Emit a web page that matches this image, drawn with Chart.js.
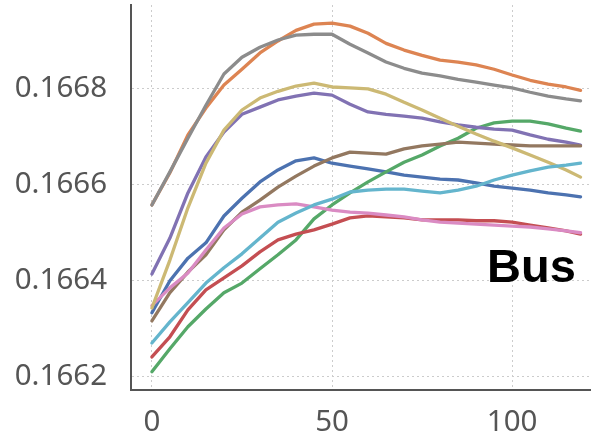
<!DOCTYPE html>
<html lang="en">
<head>
  <meta charset="UTF-8">
  <title>Bus</title>
  <script src="https://cdn.jsdelivr.net/npm/chart.js"></script>
  <style>
    body { margin: 0; background: #fff; }
  </style>
</head>
<body>
  <canvas id="busChart" width="591" height="440"></canvas>

  <script>
    const xValues = [0, 5, 10, 15, 20, 25, 30, 35, 40, 45, 50, 55, 60, 65, 70, 75, 80, 85, 90, 95, 100, 105, 110, 115, 119];
    const xTicks = [0, 50, 100];
    const yTicks = [0.1662, 0.1664, 0.1666, 0.1668];
    const panelLabel = 'Bus';

    const blueSeries = [0.166332, 0.166399, 0.166446, 0.166478, 0.166534, 0.166571, 0.166605, 0.166630, 0.166649, 0.166655, 0.166644, 0.166638, 0.166632, 0.166626, 0.166619, 0.166615, 0.166611, 0.166609, 0.166603, 0.166596, 0.166592, 0.166588, 0.166582, 0.166578, 0.166574];
    const orangeSeries = [0.166557, 0.166624, 0.166703, 0.166759, 0.166807, 0.166840, 0.166874, 0.166899, 0.166921, 0.166934, 0.166936, 0.166930, 0.166915, 0.166894, 0.166880, 0.166869, 0.166859, 0.166855, 0.166849, 0.166840, 0.166828, 0.166817, 0.166809, 0.166803, 0.166796];
    const greenSeries = [0.166209, 0.166257, 0.166303, 0.166340, 0.166374, 0.166394, 0.166424, 0.166453, 0.166484, 0.166528, 0.166557, 0.166582, 0.166605, 0.166626, 0.166646, 0.166661, 0.166680, 0.166696, 0.166717, 0.166728, 0.166732, 0.166732, 0.166726, 0.166717, 0.166711];
    const redSeries = [0.166240, 0.166282, 0.166338, 0.166380, 0.166405, 0.166430, 0.166459, 0.166484, 0.166496, 0.166505, 0.166517, 0.166530, 0.166534, 0.166532, 0.166530, 0.166526, 0.166526, 0.166526, 0.166524, 0.166524, 0.166521, 0.166515, 0.166509, 0.166503, 0.166496];
    const purpleSeries = [0.166413, 0.166488, 0.166582, 0.166657, 0.166709, 0.166746, 0.166761, 0.166776, 0.166784, 0.166790, 0.166786, 0.166767, 0.166751, 0.166746, 0.166742, 0.166738, 0.166730, 0.166724, 0.166719, 0.166715, 0.166713, 0.166703, 0.166694, 0.166688, 0.166682];
    const brownSeries = [0.166315, 0.166374, 0.166417, 0.166453, 0.166505, 0.166542, 0.166567, 0.166594, 0.166617, 0.166638, 0.166655, 0.166667, 0.166665, 0.166663, 0.166674, 0.166680, 0.166684, 0.166688, 0.166686, 0.166684, 0.166682, 0.166680, 0.166680, 0.166680, 0.166680];
    const pinkSeries = [0.166347, 0.166384, 0.166415, 0.166463, 0.166509, 0.166538, 0.166553, 0.166557, 0.166559, 0.166553, 0.166546, 0.166542, 0.166540, 0.166536, 0.166532, 0.166526, 0.166521, 0.166519, 0.166517, 0.166515, 0.166513, 0.166511, 0.166507, 0.166503, 0.166499];
    const graySeries = [0.166557, 0.166626, 0.166696, 0.166765, 0.166830, 0.166865, 0.166886, 0.166901, 0.166911, 0.166913, 0.166913, 0.166892, 0.166874, 0.166855, 0.166842, 0.166832, 0.166826, 0.166819, 0.166813, 0.166807, 0.166801, 0.166792, 0.166784, 0.166778, 0.166774];
    const oliveSeries = [0.166342, 0.166442, 0.166551, 0.166644, 0.166713, 0.166755, 0.166780, 0.166794, 0.166805, 0.166811, 0.166803, 0.166801, 0.166799, 0.166788, 0.166771, 0.166755, 0.166738, 0.166721, 0.166705, 0.166690, 0.166676, 0.166661, 0.166646, 0.166630, 0.166615];
    const cyanSeries = [0.166269, 0.166313, 0.166353, 0.166394, 0.166426, 0.166455, 0.166488, 0.166521, 0.166540, 0.166557, 0.166569, 0.166584, 0.166588, 0.166590, 0.166590, 0.166586, 0.166582, 0.166588, 0.166596, 0.166609, 0.166619, 0.166628, 0.166636, 0.166640, 0.166644];

    const seriesList = [blueSeries, orangeSeries, greenSeries, redSeries, purpleSeries, brownSeries, pinkSeries, graySeries, oliveSeries, cyanSeries];
    const seriesColors = ['#4C72B0', '#DD8452', '#55A868', '#C44E52', '#8172B3', '#937860', '#DA8BC3', '#8C8C8C', '#CCB974', '#64B5CD'];

    // later series sit on top, like the original plot
    const datasets = seriesList.map((values, i) => ({
      data: values.map((y, j) => ({ x: xValues[j], y: y })),
      borderColor: seriesColors[i],
      borderWidth: 3.3,
      pointRadius: 0,
      fill: false,
      tension: 0,
      borderCapStyle: 'round',
      borderJoinStyle: 'round',
      order: seriesList.length - i
    }));

    const labelPlugin = {
      id: 'panelLabel',
      afterDraw(chart) {
        const area = chart.chartArea;
        const c = chart.ctx;
        c.save();
        c.font = 'bold 47px "Liberation Sans", Arial, sans-serif';
        c.fillStyle = '#000';
        c.textAlign = 'left';
        c.textBaseline = 'alphabetic';
        c.fillText(panelLabel, area.left + 0.774 * (area.right - area.left), area.top + 0.72 * (area.bottom - area.top));
        c.restore();
      }
    };

    const tickFont = { family: '"Noto Sans", sans-serif', size: 29.5 };
    const gridStyle = { color: '#cccccc', lineWidth: 1, drawTicks: false };
    const borderStyle = { color: '#555555', width: 2, dash: [2, 3] };

    new Chart(document.getElementById('busChart'), {
      type: 'line',
      data: { datasets: datasets },
      plugins: [labelPlugin],
      options: {
        responsive: false,
        animation: false,
        devicePixelRatio: 1,
        layout: { padding: { top: 5, right: 0, bottom: 0, left: 0 } },
        plugins: { legend: { display: false }, tooltip: { enabled: false } },
        scales: {
          x: {
            type: 'linear',
            min: -5.8,
            max: 121.9,
            grid: gridStyle,
            border: borderStyle,
            ticks: { color: '#555555', font: tickFont, padding: 15, maxRotation: 0 },
            afterBuildTicks: s => { s.ticks = xTicks.map(v => ({ value: v })); },
            afterFit: s => { s.height = 50; s.paddingLeft = 0; s.paddingRight = 0; }
          },
          y: {
            min: 0.166171,
            max: 0.166974,
            grid: gridStyle,
            border: borderStyle,
            ticks: { color: '#555555', font: tickFont, padding: 24, callback: v => v.toFixed(4) },
            afterBuildTicks: s => { s.ticks = yTicks.map(v => ({ value: v })); },
            afterFit: s => { s.width = 131; s.paddingTop = 0; s.paddingBottom = 0; }
          }
        }
      }
    });
  </script>
</body>
</html>
